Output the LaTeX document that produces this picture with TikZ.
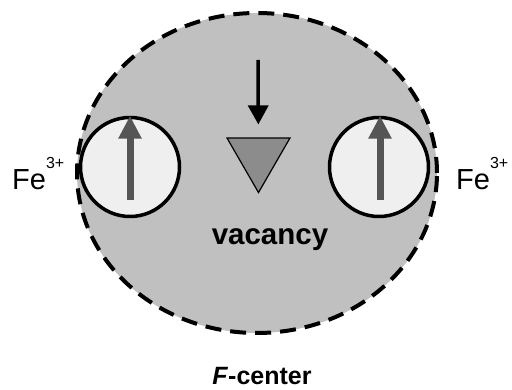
\documentclass[tikz,border=0pt]{standalone}
\usepackage{fontspec}
\setmainfont{Liberation Sans}
\usetikzlibrary{arrows.meta,shapes.geometric}
\definecolor{cloudcol}{HTML}{C0C0C0}
\definecolor{ioncol}{HTML}{EFEFEF}
\definecolor{spincol}{HTML}{555555}
\definecolor{holecol}{HTML}{8C8C8C}

\begin{document}
\begin{tikzpicture}[x=1pt,y=1pt,
   ion/.style={circle,draw,line width=3.5pt,fill=ioncol,minimum size=99pt,inner sep=0pt},
   hole/.style={regular polygon,regular polygon sides=3,shape border rotate=180,
              draw,line width=1.2pt,fill=holecol,minimum size=72.7pt,inner sep=0pt},
   spin/.style={draw=spincol,line width=7pt,-{Triangle[width=22pt,length=23pt]},spincol},
   drop/.style={line width=3.5pt,-{Triangle[width=20pt,length=19pt]}},
   lbl/.style={inner sep=0pt,font=\fontsize{29}{29}\selectfont},
]
\useasboundingbox (0,0) rectangle (512,390);
% electron cloud of the F-center
\fill[cloudcol] (257,217) ellipse [x radius=180,y radius=160];
\draw[line width=4pt,dash pattern=on 16pt off 9pt] (257,217) ellipse [x radius=180,y radius=160];

\node[ion] (feL) at (130,223) {};
\node[ion] (feR) at (379,223) {};
\draw[spin] ([yshift=-33pt]feL.center) -- (feL.north);
\draw[spin] ([xshift=1pt,yshift=-33pt]feR.center) -- ([xshift=1pt]feR.north);

\node[hole] (vac) at (258.5,233.8) {};
\coordinate (vacin) at (258,330);
\draw[drop,shorten >=13pt] (vacin) -- (vac);

\node[lbl,font=\bfseries\fontsize{29.5}{29.5}\selectfont] (vaclbl) at (270,150) {vacancy};
\node[lbl,anchor=base west] (feLlbl) at (12,200)
   {Fe\raisebox{21pt}{\fontsize{16}{16}\selectfont 3+}};
\node[lbl,anchor=base west] (feRlbl) at (456,200)
   {Fe\raisebox{21pt}{\fontsize{16}{16}\selectfont 3+}};
\node[lbl,anchor=base,font=\bfseries\fontsize{25}{25}\selectfont] (title) at (262,5)
   {\textit{F}-center};
\end{tikzpicture}
\end{document}
